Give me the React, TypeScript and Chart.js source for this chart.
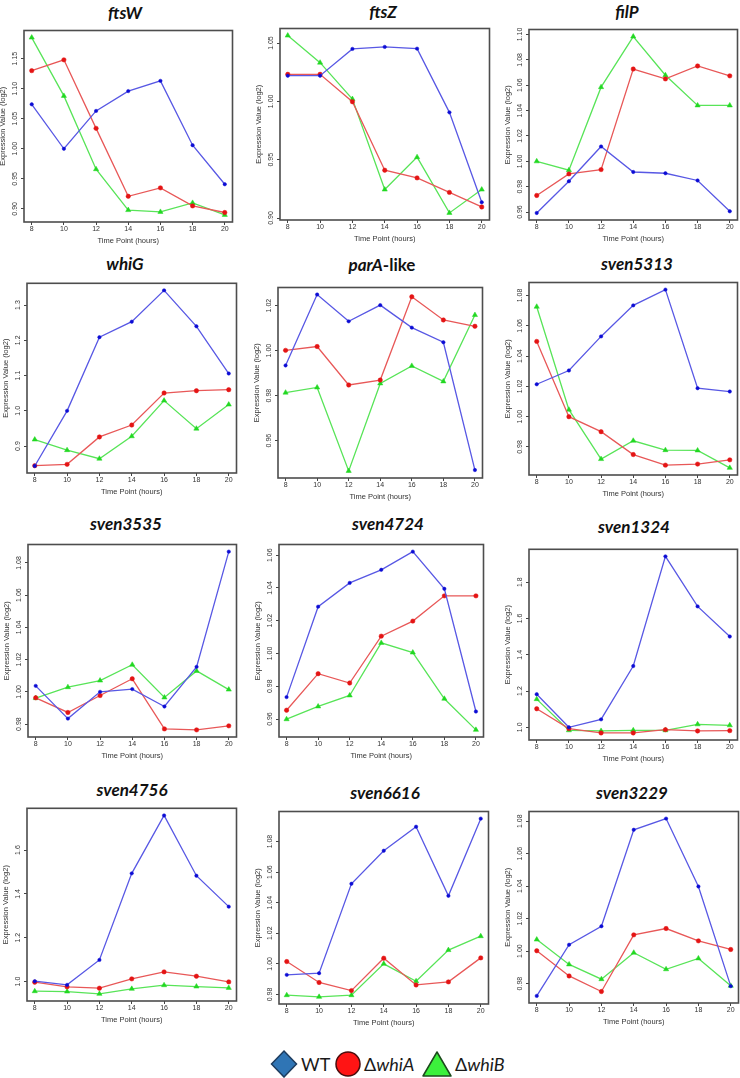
import React, { useEffect, useRef } from 'react';
import { Chart, registerables } from 'chart.js';

Chart.register(...registerables);

// ---------- data ----------
const hours = [8, 10, 12, 14, 16, 18, 20];
const xTicks = [8, 10, 12, 14, 16, 18, 20];

const ftsW_WT = [1.074, 1.0, 1.063, 1.096, 1.113, 1.006, 0.941];
const ftsW_whiA = [1.13, 1.148, 1.034, 0.921, 0.935, 0.905, 0.894];
const ftsW_whiB = [1.185, 1.088, 0.966, 0.898, 0.895, 0.91, 0.89];
const ftsW_ticks = [0.9, 0.95, 1.0, 1.05, 1.1, 1.15];

const ftsZ_WT = [1.022, 1.022, 1.045, 1.0467, 1.0452, 0.9906, 0.9135];
const ftsZ_whiA = [1.0232, 1.0232, 0.9997, 0.941, 0.9344, 0.922, 0.9095];
const ftsZ_whiB = [1.0564, 1.0332, 1.002, 0.9244, 0.9522, 0.9044, 0.9244];
const ftsZ_ticks = [0.9, 0.95, 1.0, 1.05];

const filP_WT = [0.9593, 0.9843, 1.0117, 0.9916, 0.9906, 0.9849, 0.9606];
const filP_whiA = [0.9731, 0.9901, 0.9935, 1.0728, 1.065, 1.0752, 1.0674];
const filP_whiB = [1.0, 0.993, 1.0585, 1.0984, 1.0679, 1.0441, 1.0441];
const filP_ticks = [0.96, 0.98, 1.0, 1.02, 1.04, 1.06, 1.08, 1.1];

const whiG_WT = [0.8436, 1.0, 1.2089, 1.2529, 1.3419, 1.2398, 1.1059];
const whiG_whiA = [0.8445, 0.8482, 0.926, 0.9597, 1.0506, 1.0571, 1.06];
const whiG_whiB = [0.9185, 0.8885, 0.8642, 0.9279, 1.029, 0.9494, 1.0178];
const whiG_ticks = [0.9, 1.0, 1.1, 1.2, 1.3];

const parA_WT = [0.9934, 1.0249, 1.013, 1.0202, 1.0102, 1.0037, 0.9469];
const parA_whiA = [1.0001, 1.0018, 0.9847, 0.9869, 1.0239, 1.0136, 1.0108];
const parA_whiB = [0.9813, 0.9836, 0.9465, 0.9854, 0.9932, 0.9863, 1.0158];
const parA_ticks = [0.96, 0.98, 1.0, 1.02];

const sven5313_WT = [1.0214, 1.0305, 1.053, 1.0735, 1.0839, 1.0188, 1.0166];
const sven5313_whiA = [1.0497, 1.0, 0.9901, 0.975, 0.968, 0.9687, 0.9715];
const sven5313_whiB = [1.0726, 1.0046, 0.972, 0.9841, 0.9779, 0.9777, 0.9662];
const sven5313_ticks = [0.98, 1.0, 1.02, 1.04, 1.06, 1.08];

const sven3535_WT = [1.0037, 0.9834, 1.0, 1.0017, 0.9909, 1.0155, 1.087];
const sven3535_whiA = [0.9963, 0.9872, 0.9977, 1.0081, 0.977, 0.9764, 0.9789];
const sven3535_whiB = [0.9961, 1.0029, 1.007, 1.0168, 0.9965, 1.013, 1.0014];
const sven3535_ticks = [0.98, 1.0, 1.02, 1.04, 1.06, 1.08];

const sven4724_WT = [0.9734, 1.0286, 1.0431, 1.0511, 1.0622, 1.0395, 0.9646];
const sven4724_whiA = [0.9654, 0.9877, 0.982, 1.0106, 1.0198, 1.0352, 1.0352];
const sven4724_whiB = [0.9599, 0.9677, 0.9744, 1.0065, 1.0006, 0.9724, 0.9534];
const sven4724_ticks = [0.96, 0.98, 1.0, 1.02, 1.04, 1.06];

const sven1324_WT = [1.1826, 1.0, 1.0438, 1.3379, 1.9425, 1.6667, 1.5005];
const sven1324_whiA = [1.1023, 0.9927, 0.969, 0.969, 0.9872, 0.9799, 0.9817];
const sven1324_whiB = [1.1553, 0.9836, 0.9799, 0.9836, 0.9836, 1.0164, 1.011];
const sven1324_ticks = [1.0, 1.2, 1.4, 1.6, 1.8];

const sven4756_WT = [1.0015, 0.9848, 1.0987, 1.4937, 1.758, 1.483, 1.3418];
const sven4756_whiA = [0.997, 0.9757, 0.9696, 1.0122, 1.0441, 1.0243, 0.9985];
const sven4756_whiB = [0.9559, 0.9544, 0.9438, 0.9666, 0.9833, 0.9772, 0.9711];
const sven4756_ticks = [1.0, 1.2, 1.4, 1.6];

const sven6616_WT = [0.9928, 0.9939, 1.0524, 1.074, 1.0897, 1.0445, 1.095];
const sven6616_whiA = [1.0015, 0.9878, 0.9825, 1.0037, 0.9862, 0.9882, 1.0039];
const sven6616_whiB = [0.9795, 0.9784, 0.9795, 1.0, 0.9886, 1.009, 1.0181];
const sven6616_ticks = [0.98, 1.0, 1.02, 1.04, 1.06, 1.08];

const sven3229_WT = [0.9724, 1.0039, 1.0153, 1.0747, 1.0816, 1.0398, 0.9784];
const sven3229_whiA = [1.0002, 0.9847, 0.9751, 1.01, 1.0139, 1.0063, 1.001];
const sven3229_whiB = [1.0071, 0.9918, 0.9827, 0.999, 0.9888, 0.9955, 0.9786];
const sven3229_ticks = [0.98, 1.0, 1.02, 1.04, 1.06, 1.08];

const panels = [
  { italic: 'ftsW', suffix: '', wt: ftsW_WT, a: ftsW_whiA, b: ftsW_whiB, ticks: ftsW_ticks, dec: 2 },
  { italic: 'ftsZ', suffix: '', wt: ftsZ_WT, a: ftsZ_whiA, b: ftsZ_whiB, ticks: ftsZ_ticks, dec: 2 },
  { italic: 'filP', suffix: '', wt: filP_WT, a: filP_whiA, b: filP_whiB, ticks: filP_ticks, dec: 2 },
  { italic: 'whiG', suffix: '', wt: whiG_WT, a: whiG_whiA, b: whiG_whiB, ticks: whiG_ticks, dec: 1 },
  { italic: 'parA', suffix: '-like', wt: parA_WT, a: parA_whiA, b: parA_whiB, ticks: parA_ticks, dec: 2 },
  { italic: 'sven5313', suffix: '', wt: sven5313_WT, a: sven5313_whiA, b: sven5313_whiB, ticks: sven5313_ticks, dec: 2 },
  { italic: 'sven3535', suffix: '', wt: sven3535_WT, a: sven3535_whiA, b: sven3535_whiB, ticks: sven3535_ticks, dec: 2 },
  { italic: 'sven4724', suffix: '', wt: sven4724_WT, a: sven4724_whiA, b: sven4724_whiB, ticks: sven4724_ticks, dec: 2 },
  { italic: 'sven1324', suffix: '', wt: sven1324_WT, a: sven1324_whiA, b: sven1324_whiB, ticks: sven1324_ticks, dec: 1 },
  { italic: 'sven4756', suffix: '', wt: sven4756_WT, a: sven4756_whiA, b: sven4756_whiB, ticks: sven4756_ticks, dec: 1 },
  { italic: 'sven6616', suffix: '', wt: sven6616_WT, a: sven6616_whiA, b: sven6616_whiB, ticks: sven6616_ticks, dec: 2 },
  { italic: 'sven3229', suffix: '', wt: sven3229_WT, a: sven3229_whiA, b: sven3229_whiB, ticks: sven3229_ticks, dec: 2 },
];

// ---------- layout (plot box L,T,R,B and title centre) ----------
const boxes = [
  [24, 30, 233, 222], [280, 28, 490, 220], [529, 29, 738, 220],
  [27, 282, 237, 473], [278, 287, 483, 478], [529, 282, 738, 475],
  [28, 544, 237, 737], [279, 544, 484, 737], [529, 548, 738, 740],
  [27, 807, 237, 1001], [279, 811, 489, 1004], [529, 811, 739, 1003],
];
const titlePos = [
  [125, 13], [383, 12], [627, 12],
  [125, 264], [382, 265], [637, 264],
  [126, 524], [388, 524], [634, 527],
  [132, 790], [385, 793], [632, 793],
];

const YAXIS_W = 26;
const XAXIS_H = 24;
const PAD_T = 4;
const PAD_R = 4;
const PAD_B = 2;

const framePlugin = {
  id: 'frame',
  afterDraw(chart: any) {
    const { ctx, chartArea } = chart;
    ctx.save();
    ctx.strokeStyle = '#4d4d4d';
    ctx.lineWidth = 1.6;
    ctx.strokeRect(chartArea.left, chartArea.top, chartArea.right - chartArea.left, chartArea.bottom - chartArea.top);
    ctx.restore();
  },
};

const axisFont = { family: 'Liberation Sans, Arial, sans-serif', size: 7 };
const titleFont = { family: 'Liberation Sans, Arial, sans-serif', size: 7.5 };

function Panel({ p, box }: { p: any; box: number[] }) {
  const ref = useRef<HTMLCanvasElement | null>(null);
  const [L, T, R, B] = box;
  const w = R - L + YAXIS_W + PAD_R;
  const h = B - T + PAD_T + XAXIS_H + PAD_B;

  useEffect(() => {
    if (!ref.current) return;
    const all = [...p.wt, ...p.a, ...p.b];
    const lo = Math.min(...all);
    const hi = Math.max(...all);
    const ext = (hi - lo) * 0.04;
    const xExt = (hours[hours.length - 1] - hours[0]) * 0.04;
    const mk = (vals: number[]) => hours.map((hr, i) => ({ x: hr, y: vals[i] }));
    const chart = new Chart(ref.current, {
      type: 'line',
      data: {
        datasets: [
          {
            label: 'WT', data: mk(p.wt), borderColor: 'rgb(88,88,228)', borderWidth: 1.3,
            pointStyle: 'circle', pointRadius: 1.7, pointBackgroundColor: '#0c0cd4', pointBorderColor: '#0c0cd4', pointBorderWidth: 0.5,
          },
          {
            label: 'ΔwhiA', data: mk(p.a), borderColor: 'rgb(232,88,88)', borderWidth: 1.3,
            pointStyle: 'circle', pointRadius: 2.2, pointBackgroundColor: '#e41414', pointBorderColor: '#e41414', pointBorderWidth: 0.5,
          },
          {
            label: 'ΔwhiB', data: mk(p.b), borderColor: 'rgb(88,228,88)', borderWidth: 1.3,
            pointStyle: 'triangle', pointRadius: 3, pointBackgroundColor: '#22d822', pointBorderColor: '#22d822', pointBorderWidth: 0.5,
          },
        ],
      } as any,
      options: {
        animation: false,
        responsive: false,
        events: [],
        layout: { padding: { left: 0, top: PAD_T, right: PAD_R, bottom: PAD_B } },
        plugins: { legend: { display: false }, tooltip: { enabled: false }, title: { display: false } },
        scales: {
          x: {
            type: 'linear',
            min: hours[0] - xExt,
            max: hours[hours.length - 1] + xExt,
            afterBuildTicks: (a: any) => { a.ticks = xTicks.map((v) => ({ value: v })); },
            afterFit: (a: any) => { a.height = XAXIS_H; },
            ticks: { font: axisFont, color: '#333', padding: 0, maxRotation: 0, autoSkip: false, callback: (v: any) => String(v) },
            grid: { drawOnChartArea: false, drawTicks: true, tickLength: 3, color: '#444' },
            border: { display: false },
            title: { display: true, text: 'Time Point (hours)', font: titleFont, color: '#333', padding: { top: 0, bottom: 0.5 } },
          },
          y: {
            type: 'linear',
            min: lo - ext,
            max: hi + ext,
            afterBuildTicks: (a: any) => { a.ticks = p.ticks.map((v: number) => ({ value: v })); },
            afterFit: (a: any) => { a.width = YAXIS_W; },
            ticks: {
              font: axisFont, color: '#333', minRotation: 90, maxRotation: 90, crossAlign: 'center',
              padding: p.dec === 1 ? 1.1 : -0.8, autoSkip: false,
              callback: (v: any) => Number(v).toFixed(p.dec),
            },
            grid: { drawOnChartArea: false, drawTicks: true, tickLength: 3, color: '#444' },
            border: { display: false },
            title: { display: true, text: 'Expression Value (log2)', font: titleFont, color: '#333', padding: { top: 0.5, bottom: 0 } },
          },
        },
      } as any,
      plugins: [framePlugin],
    });
    return () => chart.destroy();
  }, []);

  return (
    <canvas
      ref={ref}
      width={w}
      height={h}
      style={{ position: 'absolute', left: L - YAXIS_W, top: T - PAD_T, width: w, height: h, display: 'block' }}
    />
  );
}

const titleStyle: React.CSSProperties = {
  position: 'absolute',
  transform: 'translateX(-50%)',
  fontFamily: 'Lato, "Open Sans", sans-serif',
  fontWeight: 700,
  fontSize: 17,
  lineHeight: '20px',
  color: '#111',
  whiteSpace: 'nowrap',
};

const legendText: React.CSSProperties = {
  position: 'absolute',
  fontFamily: 'Lato, "Open Sans", sans-serif',
  fontSize: 18,
  lineHeight: '24px',
  color: '#1a1a1a',
  whiteSpace: 'nowrap',
};

export default function App() {
  return (
    <div style={{ position: 'absolute', left: 0, top: 0, width: 740, height: 1078, background: '#fff', overflow: 'hidden' }}>
      {panels.map((p, i) => (
        <React.Fragment key={i}>
          <div style={{ ...titleStyle, left: titlePos[i][0], top: titlePos[i][1] - 10 }}>
            <i>{p.italic}</i>{p.suffix}
          </div>
          <Panel p={p} box={boxes[i]} />
        </React.Fragment>
      ))}
      {/* legend */}
      <svg width={740} height={40} style={{ position: 'absolute', left: 0, top: 1044 }}>
        <polygon points="284,7 296.5,20 284,33 271.5,20" fill="#2f75b5" stroke="#1d3c5e" strokeWidth={1.5} />
        <circle cx={348} cy={20} r={12} fill="#ff1414" stroke="#4a0c0c" strokeWidth={1.5} />
        <polygon points="437,8 451,32 423,32" fill="#3cf03c" stroke="#1c4a1c" strokeWidth={1.5} strokeLinejoin="round" />
      </svg>
      <div style={{ ...legendText, left: 301, top: 1052 }}>WT</div>
      <div style={{ ...legendText, left: 364, top: 1052 }}>Δ<i>whiA</i></div>
      <div style={{ ...legendText, left: 455, top: 1052 }}>Δ<i>whiB</i></div>
    </div>
  );
}
